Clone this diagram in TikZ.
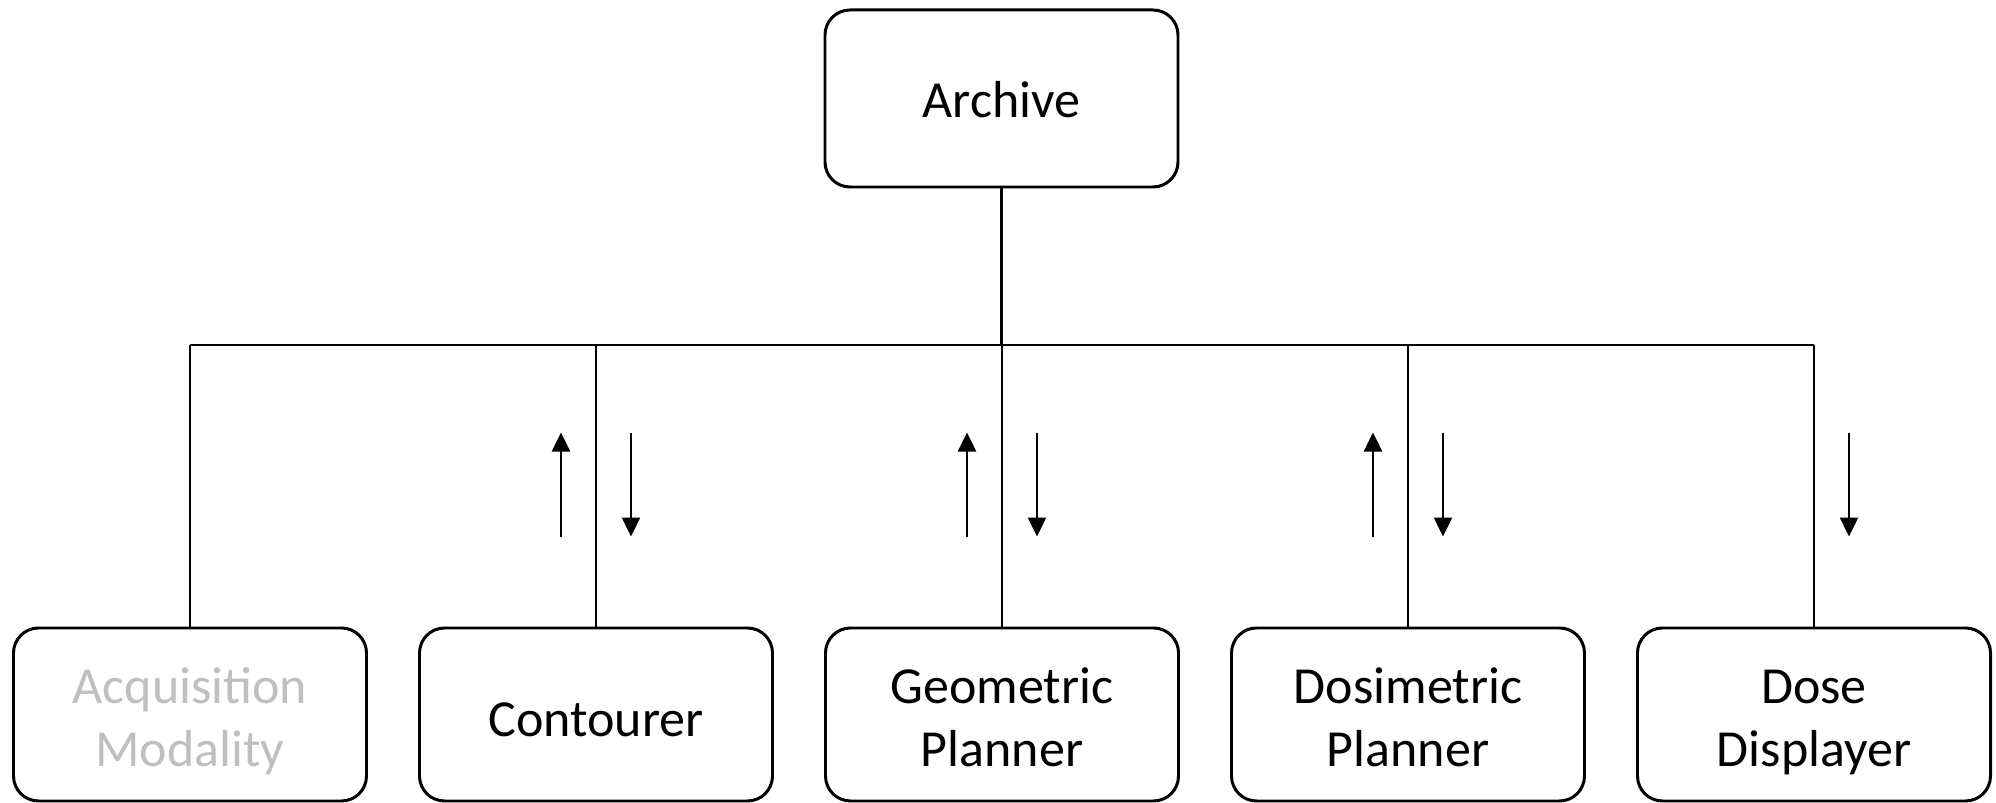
\documentclass[tikz,border=0pt]{standalone}
\usepackage{fontspec}
\setmainfont{Carlito}
\usepackage{tikz}
\usetikzlibrary{arrows.meta,positioning}

\definecolor{fadedgray}{RGB}{191,191,191}
\tikzset{
  box/.style={draw,line width=0.85pt,rounded corners=0.25cm,minimum width=3.53cm,
    minimum height=1.73cm,align=center,font=\fontsize{14.8}{17.9}\selectfont,
    text height=17.7pt,text depth=5pt},
  twoline/.style={text height=34.5pt},
  link/.style={line width=0.7pt}
}

\begin{document}
\begin{tikzpicture}[>={Triangle[length=1.9mm,width=1.8mm]},node distance=4.06cm]
\useasboundingbox (0,0) rectangle (19.96,-8.03);
\node[box,minimum height=1.77cm,text height=15.8pt] (archive) at (10.015,-0.985) {Archive};
\node[box,twoline,text=fadedgray] (acq) at (1.90,-7.145) {Acquisition\\Modality};
\node[box] (cont) [right of=acq] {Contourer};
\node[box,twoline] (geom) [right of=cont] {Geometric\\Planner};
\node[box,twoline] (dosi) [right of=geom] {Dosimetric\\Planner};
\node[box,twoline] (disp) [right of=dosi] {Dose\\Displayer};

% bus
\coordinate (bus) at (0,-3.45);
\draw[link] (archive.south) -- (archive.south |- bus);
\draw[link] (acq.north |- bus) -- (disp.north |- bus);
\foreach \n in {acq,cont,geom,dosi,disp}
  \draw[link] (\n.north |- bus) -- (\n.north);

% data flow
\foreach \n in {cont,geom,dosi}
  \draw[link,->] ([shift={(-0.35,0.9)}]\n.north) -- ++(0,1.04);
\foreach \n in {cont,geom,dosi,disp}
  \draw[link,->] ([shift={(0.35,1.94)}]\n.north) -- ++(0,-1.04);
\end{tikzpicture}
\end{document}
